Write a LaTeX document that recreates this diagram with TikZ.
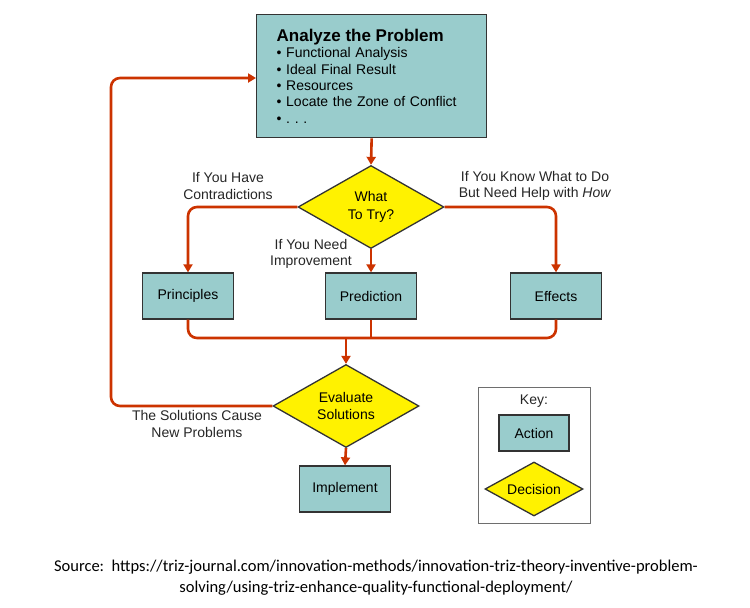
\documentclass[tikz,border=0pt]{standalone}
\usepackage{fontspec}
\setmainfont{Liberation Sans}
\newfontfamily\srcfont{Carlito}
\usetikzlibrary{shapes.geometric,arrows.meta}

\definecolor{actionfill}{RGB}{153,204,204}
\definecolor{flowred}{RGB}{204,51,0}
\definecolor{keygray}{RGB}{110,110,110}

\tikzset{
		action/.style   = {shape=rectangle, draw=black!80, line width=1.3pt,
				fill=actionfill, align=center, inner sep=0pt,
				minimum width=91pt, minimum height=46pt,
				font=\fontsize{14}{16.3}\selectfont},
		decision/.style = {shape=diamond, draw=black!80, line width=1.3pt,
				fill=yellow, align=center, inner sep=0pt, aspect=1.76,
				minimum width=146pt, minimum height=83pt,
				font=\fontsize{14}{17}\selectfont},
		flow/.style     = {draw=flowred, line width=2.6pt, rounded corners=9pt,
				-{Triangle[length=8pt,width=9pt]}},
		joint/.style    = {draw=flowred, line width=2.6pt, rounded corners=9pt},
		note/.style     = {align=center, font=\fontsize{14}{16.5}\selectfont,
				text=black!85}
	}

\begin{document}
\begin{tikzpicture}
		[x=1pt, y=-1pt]
		\useasboundingbox (0,0) rectangle (750,608);
		% main problem box
		\node [action, anchor=north west, minimum width=230pt, minimum height=123pt,
			text width=190pt, align=left] (analyze) at (256,14)
			{{\fontsize{17}{19}\selectfont\bfseries Analyze the Problem}\\
			\textbullet\ Functional Analysis\\
			\textbullet\ Ideal Final Result\\
			\textbullet\ Resources\\
			\textbullet\ Locate the Zone of Conflict\\
			\textbullet\ .\ .\ .};
		\node [decision] (try) at (371,207) {What\\[1pt]To Try?};
		\node [action] (principles) at (188,296) {Principles};
		\node [action] (prediction) at (371,296) {Prediction};
		\node [action] (effects) at (556,296) {Effects};
		\coordinate (merge) at (346,338);
		\node [decision] (evaluate) at (346,406) {Evaluate\\Solutions};
		\node [action] (implement) at (345,489) {Implement};
		\coordinate (loop) at (111,406);

		% branch labels
		\node [note] (contra) at (228,186) {If You Have\\Contradictions};
		\node [note] (improve) at (311,254) {If You Need\\Improvement};
		\node [note] (how) at (535,186) {If You Know What to Do\\But Need Help with \textit{How}};
		\node [note] (newprob) at (197,424) {The Solutions Cause\\New Problems};

		% connectors
		\draw [flow] (analyze.south) -- (try.north);
		\draw [flow] (try.west) -| (principles.north);
		\draw [flow] (try.south) -- (prediction.north);
		\draw [flow] (try.east) -| (effects.north);
		\draw [joint] (principles.south) |- (merge) -| (effects.south);
		\draw [joint] (prediction.south) -- (prediction.south |- merge);
		\draw [flow] (merge) -- (evaluate.north);
		\draw [flow] (evaluate.south) -- (implement.north);
		\draw [flow] (evaluate.west) -- (loop) |- (analyze.west |- 0,78);

		% key
		\node [draw=keygray, line width=1pt, minimum width=112pt, minimum height=136pt,
			inner sep=0pt] (key) at (534,455) {};
		\node [note] (keytitle) at (534,401) {Key:};
		\node [action, minimum width=70pt, minimum height=36pt] (keyaction) at (534,433) {Action};
		\node [decision, minimum width=98pt, minimum height=54pt] (keydecision) at (534,489) {Decision};

		% source line
		\node [align=center, font=\srcfont\fontsize{16.5}{21}\selectfont] (source) at (376,578)
			{Source:\ \ https://triz-journal.com/innovation-methods/innovation-triz-theory-inventive-problem-\\
			solving/using-triz-enhance-quality-functional-deployment/};
	\end{tikzpicture}
\end{document}
